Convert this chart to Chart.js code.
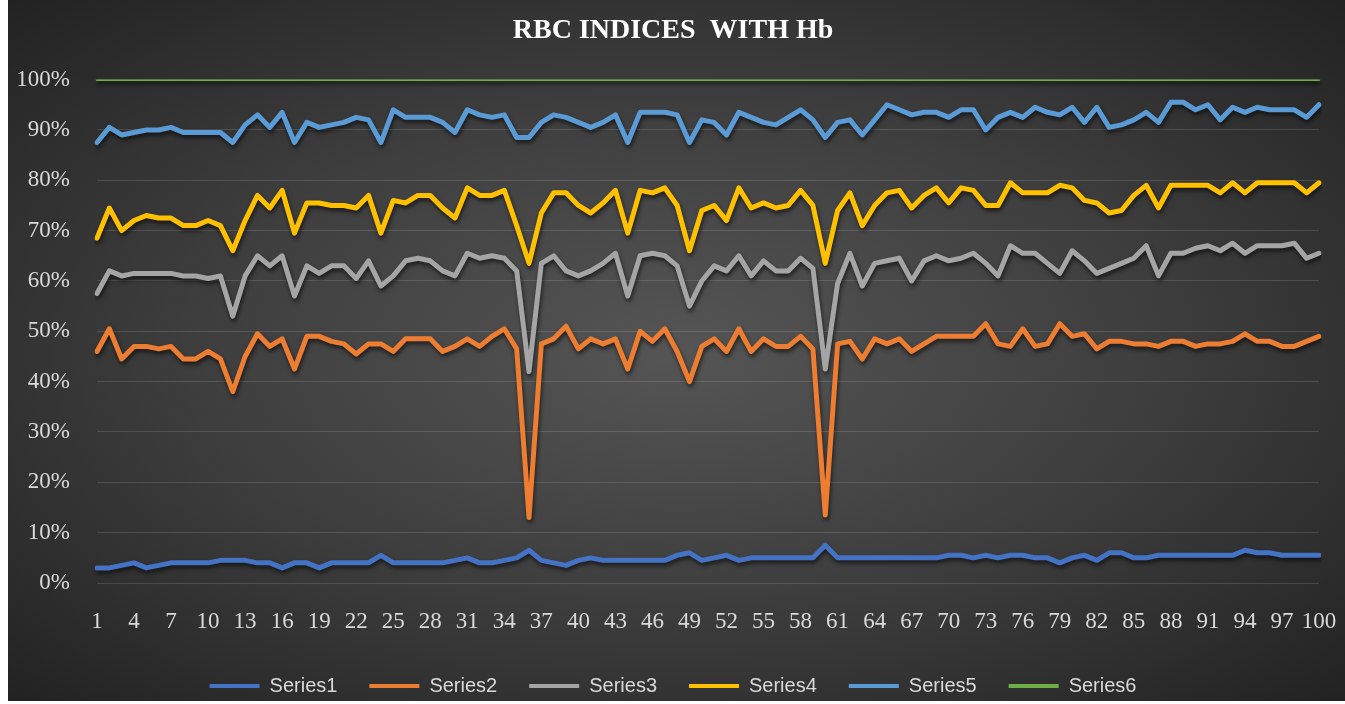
<!DOCTYPE html>
<html>
<head>
<meta charset="utf-8">
<script src="https://cdn.jsdelivr.net/npm/chart.js@4.4.1/dist/chart.umd.min.js"></script>
<style>
  html, body { margin: 0; padding: 0; background: #ffffff; overflow: hidden; }
  #wrap {
    position: absolute;
    left: 8px;
    top: 0;
    width: 1337px;
    height: 701px;
    overflow: hidden;
    background: radial-gradient(ellipse at 50% 50%, #555555 0%, #3e3e3e 50%, #222222 100%);
  }
  #inner { position: relative; width: 1337px; height: 706px; }
</style>
</head>
<body>
<div id="wrap"><div id="inner"><canvas id="chart"></canvas></div></div>
<script>
const categories = [
  1, 2, 3, 4, 5, 6, 7, 8, 9, 10, 11, 12, 13, 14, 15, 16, 17, 18, 19, 20,
  21, 22, 23, 24, 25, 26, 27, 28, 29, 30, 31, 32, 33, 34, 35, 36, 37, 38, 39, 40,
  41, 42, 43, 44, 45, 46, 47, 48, 49, 50, 51, 52, 53, 54, 55, 56, 57, 58, 59, 60,
  61, 62, 63, 64, 65, 66, 67, 68, 69, 70, 71, 72, 73, 74, 75, 76, 77, 78, 79, 80,
  81, 82, 83, 84, 85, 86, 87, 88, 89, 90, 91, 92, 93, 94, 95, 96, 97, 98, 99, 100,
];

const series1 = [
  3, 3, 3.5, 4, 3, 3.5, 4, 4, 4, 4, 4.5, 4.5, 4.5, 4, 4, 3, 4, 4, 3, 4,
  4, 4, 4, 5.5, 4, 4, 4, 4, 4, 4.5, 5, 4, 4, 4.5, 5, 6.5, 4.5, 4, 3.5, 4.5,
  5, 4.5, 4.5, 4.5, 4.5, 4.5, 4.5, 5.5, 6, 4.5, 5, 5.5, 4.5, 5, 5, 5, 5, 5, 5, 7.5,
  5, 5, 5, 5, 5, 5, 5, 5, 5, 5.5, 5.5, 5, 5.5, 5, 5.5, 5.5, 5, 5, 4, 5,
  5.5, 4.5, 6, 6, 5, 5, 5.5, 5.5, 5.5, 5.5, 5.5, 5.5, 5.5, 6.5, 6, 6, 5.5, 5.5, 5.5, 5.5,
];
const series2 = [
  46, 50.5, 44.5, 47, 47, 46.5, 47, 44.5, 44.5, 46, 44.5, 38, 45, 49.5, 47, 48.5, 42.5, 49, 49, 48,
  47.5, 45.5, 47.5, 47.5, 46, 48.5, 48.5, 48.5, 46, 47, 48.5, 47, 49, 50.5, 46.5, 13, 47.5, 48.5, 51, 46.5,
  48.5, 47.5, 48.5, 42.5, 50, 48, 50.5, 46, 40, 47, 48.5, 46, 50.5, 46, 48.5, 47, 47, 49, 46.5, 13.5,
  47.5, 48, 44.5, 48.5, 47.5, 48.5, 46, 47.5, 49, 49, 49, 49, 51.5, 47.5, 47, 50.5, 47, 47.5, 51.5, 49,
  49.5, 46.5, 48, 48, 47.5, 47.5, 47, 48, 48, 47, 47.5, 47.5, 48, 49.5, 48, 48, 47, 47, 48, 49,
];
const series3 = [
  57.5, 62, 61, 61.5, 61.5, 61.5, 61.5, 61, 61, 60.5, 61, 53, 61, 65, 63, 65, 57, 63, 61.5, 63,
  63, 60.5, 64, 59, 61, 64, 64.5, 64, 62, 61, 65.5, 64.5, 65, 64.5, 62, 42, 63.5, 65, 62, 61,
  62, 63.5, 65.5, 57, 65, 65.5, 65, 63, 55, 60, 63, 62, 65, 61, 64, 62, 62, 64.5, 62.5, 42.5,
  59.5, 65.5, 59, 63.5, 64, 64.5, 60, 64, 65, 64, 64.5, 65.5, 63.5, 61, 67, 65.5, 65.5, 63.5, 61.5, 66,
  64, 61.5, 62.5, 63.5, 64.5, 67, 61, 65.5, 65.5, 66.5, 67, 66, 67.5, 65.5, 67, 67, 67, 67.5, 64.5, 65.5,
];
const series4 = [
  68.5, 74.5, 70, 72, 73, 72.5, 72.5, 71, 71, 72, 71, 66, 72, 77, 74.5, 78, 69.5, 75.5, 75.5, 75,
  75, 74.5, 77, 69.5, 76, 75.5, 77, 77, 74.5, 72.5, 78.5, 77, 77, 78, 71, 63.5, 73.5, 77.5, 77.5, 75,
  73.5, 75.5, 78, 69.5, 78, 77.5, 78.5, 75, 66, 74, 75, 72, 78.5, 74.5, 75.5, 74.5, 75, 78, 75, 63.5,
  74, 77.5, 71, 75, 77.5, 78, 74.5, 77, 78.5, 75.5, 78.5, 78, 75, 75, 79.5, 77.5, 77.5, 77.5, 79, 78.5,
  76, 75.5, 73.5, 74, 77, 79, 74.5, 79, 79, 79, 79, 77.5, 79.5, 77.5, 79.5, 79.5, 79.5, 79.5, 77.5, 79.5,
];
const series5 = [
  87.5, 90.5, 89, 89.5, 90, 90, 90.5, 89.5, 89.5, 89.5, 89.5, 87.5, 91, 93, 90.5, 93.5, 87.5, 91.5, 90.5, 91,
  91.5, 92.5, 92, 87.5, 94, 92.5, 92.5, 92.5, 91.5, 89.5, 94, 93, 92.5, 93, 88.5, 88.5, 91.5, 93, 92.5, 91.5,
  90.5, 91.5, 93, 87.5, 93.5, 93.5, 93.5, 93, 87.5, 92, 91.5, 89, 93.5, 92.5, 91.5, 91, 92.5, 94, 92, 88.5,
  91.5, 92, 89, 92, 95, 94, 93, 93.5, 93.5, 92.5, 94, 94, 90, 92.5, 93.5, 92.5, 94.5, 93.5, 93, 94.5,
  91.5, 94.5, 90.5, 91, 92, 93.5, 91.5, 95.5, 95.5, 94, 95, 92, 94.5, 93.5, 94.5, 94, 94, 94, 92.5, 95,
];
const series6 = [
  100, 100, 100, 100, 100, 100, 100, 100, 100, 100, 100, 100, 100, 100, 100, 100, 100, 100, 100, 100,
  100, 100, 100, 100, 100, 100, 100, 100, 100, 100, 100, 100, 100, 100, 100, 100, 100, 100, 100, 100,
  100, 100, 100, 100, 100, 100, 100, 100, 100, 100, 100, 100, 100, 100, 100, 100, 100, 100, 100, 100,
  100, 100, 100, 100, 100, 100, 100, 100, 100, 100, 100, 100, 100, 100, 100, 100, 100, 100, 100, 100,
  100, 100, 100, 100, 100, 100, 100, 100, 100, 100, 100, 100, 100, 100, 100, 100, 100, 100, 100, 100,
];

const seriesNames = ["Series1", "Series2", "Series3", "Series4", "Series5", "Series6"];
const seriesColors = ["#4472c4", "#ed7d31", "#a5a5a5", "#ffc000", "#5b9bd5", "#70ad47"];
const seriesData = [series1, series2, series3, series4, series5, series6];

const serif = "'Liberation Serif', 'Times New Roman', serif";
const tickColor = "#d9d9d9";

// soft drop shadow under each line, like the office chart style
const lineShadow = {
  id: "lineShadow",
  afterLayout(chart) {
    // let the y labels use the space left of the axis box without being clipped
    chart.scales.y.left = 0;
  },
  beforeDatasetDraw(chart) {
    const ctx = chart.ctx;
    ctx.save();
    ctx.shadowColor = "rgba(0, 0, 0, 0.6)";
    ctx.shadowBlur = 4;
    ctx.shadowOffsetX = 1;
    ctx.shadowOffsetY = 3;
  },
  afterDatasetDraw(chart) {
    chart.ctx.restore();
  },
};

const datasets = seriesData.map((values, i) => ({
  label: seriesNames[i],
  data: values,
  borderColor: seriesColors[i],
  backgroundColor: seriesColors[i],
  borderWidth: i === 5 ? 3 : 5,
  pointRadius: 0,
  pointHoverRadius: 0,
  tension: 0,
  borderJoinStyle: "round",
  borderCapStyle: "round",
  order: 6 - i,
}));

new Chart(document.getElementById("chart"), {
  type: "line",
  data: { labels: categories, datasets },
  plugins: [lineShadow],
  options: {
    responsive: true,
    maintainAspectRatio: false,
    animation: false,
    layout: { padding: { left: 13, right: 20, top: 0, bottom: 0 } },
    scales: {
      x: {
        offset: false,
        grid: { display: false, drawTicks: false },
        border: { display: false },
        ticks: {
          color: tickColor,
          font: { family: serif, size: 23 },
          padding: 25,
          autoSkip: false,
          maxRotation: 0,
          minRotation: 0,
          callback: (value, index) => (index % 3 === 0 || index === categories.length - 1 ? categories[index] : ""),
        },
        afterFit: (scale) => {
          scale.height = 61;
          scale.paddingLeft = 0;
          scale.paddingRight = 26;
        },
      },
      y: {
        min: 0,
        max: 100,
        grid: { color: "rgba(255, 255, 255, 0.13)", lineWidth: 1, drawTicks: false },
        border: { display: false },
        ticks: {
          stepSize: 10,
          color: tickColor,
          font: { family: serif, size: 23 },
          padding: 27,
          callback: (value) => `${value}%`,
        },
        afterFit: (scale) => {
          scale.width = 76;
        },
      },
    },
    plugins: {
      title: {
        display: true,
        text: "RBC INDICES  WITH Hb",
        color: "#ffffff",
        font: { family: serif, size: 28, weight: "bold" },
        padding: { top: 14, bottom: 32 },
      },
      legend: {
        position: "bottom",
        labels: {
          color: tickColor,
          font: { family: "'Liberation Sans', Arial, sans-serif", size: 20 },
          boxWidth: 50,
          boxHeight: 4,
          padding: 32,
          sort: (a, b) => a.datasetIndex - b.datasetIndex,
          generateLabels: (chart) =>
            Chart.defaults.plugins.legend.labels.generateLabels(chart).map((item) => ({ ...item, lineWidth: 0 })),
        },
      },
      tooltip: { enabled: false },
    },
  },
});
</script>
</body>
</html>
